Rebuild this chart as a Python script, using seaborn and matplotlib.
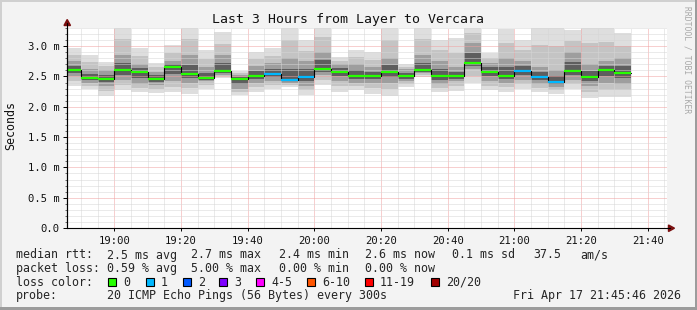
import numpy as np
import pandas as pd
import matplotlib
matplotlib.use("Agg")
import matplotlib.pyplot as plt
import seaborn as sns
from matplotlib.lines import Line2D
from matplotlib.patches import Rectangle, Polygon
from matplotlib.ticker import MultipleLocator, FuncFormatter

# ---------------- data ----------------
bar_end = pd.date_range("2026-04-17 18:50", "2026-04-17 21:35", freq="5min")
rtt_median = [2.60, 2.47, 2.46, 2.61, 2.58, 2.46, 2.65, 2.54, 2.48, 2.59, 2.46, 2.51,
              2.54, 2.44, 2.49, 2.63, 2.58, 2.51, 2.51, 2.58, 2.51, 2.61, 2.51, 2.51,
              2.73, 2.58, 2.51, 2.59, 2.49, 2.41, 2.59, 2.49, 2.61, 2.56]
rtt_min = [2.35, 2.30, 2.18, 2.27, 2.24, 2.23, 2.24, 2.21, 2.29, 2.48, 2.19, 2.25,
           2.30, 2.32, 2.19, 2.36, 2.25, 2.27, 2.21, 2.18, 2.32, 2.49, 2.25, 2.26,
           2.40, 2.27, 2.25, 2.30, 2.25, 2.21, 2.30, 2.15, 2.16, 2.16]
rtt_q1 = [2.50, 2.40, 2.35, 2.45, 2.38, 2.36, 2.42, 2.40, 2.42, 2.52, 2.30, 2.40,
          2.43, 2.40, 2.35, 2.52, 2.42, 2.40, 2.40, 2.40, 2.42, 2.55, 2.38, 2.42,
          2.62, 2.42, 2.40, 2.45, 2.38, 2.33, 2.45, 2.35, 2.40, 2.38]
rtt_q3 = [2.75, 2.62, 2.60, 2.85, 2.70, 2.58, 2.75, 2.85, 2.65, 2.85, 2.52, 2.68,
          2.72, 2.80, 2.75, 2.90, 2.70, 2.70, 2.65, 2.80, 2.62, 2.85, 2.75, 2.65,
          3.05, 2.72, 2.80, 2.75, 2.65, 2.60, 2.90, 2.70, 2.75, 2.80]
rtt_max = [2.97, 2.85, 2.74, 3.40, 2.97, 2.72, 3.02, 3.40, 2.93, 3.23, 2.59, 2.91,
           2.97, 3.40, 3.10, 3.40, 2.82, 2.94, 2.91, 3.40, 2.70, 3.40, 3.11, 3.14,
           3.40, 2.88, 3.29, 3.11, 3.40, 3.40, 3.26, 3.40, 3.40, 3.22]
loss = [0, 0, 0, 0, 0, 0, 0, 0, 0, 0, 0, 0, 1, 1, 1, 0, 0, 0, 0, 0, 0, 0, 0, 0,
        0, 0, 0, 1, 1, 1, 0, 0, 0, 0]
loss_labels = ["0", "1", "2", "3", "4-5", "6-10", "11-19", "20/20"]
loss_colors = ["#26ff00", "#00b8ff", "#0059ff", "#7e00ff", "#ff00ff", "#ff5500", "#ff0000", "#a10000"]
stats_rtt = ["2.5 ms avg", "2.7 ms max", "2.4 ms min", "2.6 ms now", "0.1 ms sd", "37.5", "am/s"]
stats_loss = ["0.59 % avg", "5.00 % max", "0.00 % min", "0.00 % now"]
title = "Last 3 Hours from Layer to Vercara"
probe_text = "20 ICMP Echo Pings (56 Bytes) every 300s"
stamp = "Fri Apr 17 21:45:46 2026"

base = pd.Timestamp("2026-04-17 18:00")
view_start = pd.Timestamp("2026-04-17 18:45:46")
view_end = view_start + pd.Timedelta(hours=3)

def mins(ts):
    return (ts - base).total_seconds() / 60.0

t_end = np.array([mins(t) for t in bar_end])
step = 5.0
med = np.array(rtt_median)
lo0, hi0 = np.array(rtt_min), np.array(rtt_max)
q1, q3 = np.array(rtt_q1), np.array(rtt_q3)

# ---------------- figure ----------------
W, H = 697, 310
sns.set_theme(style="white")
plt.rcParams["font.family"] = ["DejaVu Sans Mono", "DejaVu Sans"]

fig = plt.figure(figsize=(W / 100, H / 100), dpi=100, facecolor="#f3f3f3")

def fx(x):
    return x / W

def fy(y):
    return 1 - y / H

ax = fig.add_axes([fx(67), fy(228), 600 / W, 200 / H])
ax.set_facecolor("white")

# smoke layers
layers = [
    (lo0, hi0, "#dedede"),
    ((lo0 + q1) / 2, (q3 + hi0) / 2, "#c4c4c4"),
    (q1, q3, "#9e9e9e"),
    ((q1 + med) / 2, (med + q3) / 2, "#5e5e5e"),
]
for lo, hi, col in layers:
    ax.bar(t_end - step, hi - lo, width=step, bottom=lo, align="edge",
           color=col, linewidth=0, zorder=1)

# median step line
df_step = pd.DataFrame({"t": np.concatenate([[t_end[0] - step], t_end]),
                        "med": np.concatenate([[med[0]], med])})
sns.lineplot(data=df_step, x="t", y="med", drawstyle="steps-pre", color="black",
             lw=0.8, ax=ax, zorder=3, estimator=None, sort=True)

# loss-coloured median segments
seg_colors = [loss_colors[l] for l in loss]
ax.hlines(med, t_end - step, t_end, colors=seg_colors, lw=1.6, zorder=4)

ax.set_xlim(mins(view_start), mins(view_end))
ax.set_ylim(0, 3.3)
ax.set_xlabel("")
ax.set_ylabel("")

ax.xaxis.set_major_locator(MultipleLocator(20))
ax.xaxis.set_minor_locator(MultipleLocator(5))
ax.yaxis.set_major_locator(MultipleLocator(0.5))
ax.yaxis.set_minor_locator(MultipleLocator(0.1))
ax.xaxis.set_major_formatter(FuncFormatter(lambda v, p: f"{int(v // 60) + 18:02d}:{int(round(v % 60)):02d}"))
ax.yaxis.set_major_formatter(FuncFormatter(lambda v, p: "0.0" if abs(v) < 1e-9 else f"{v:.1f} m"))

ax.set_axisbelow(False)
ax.grid(which="minor", color="#d6d6d6", linestyle=(0, (1, 1)), lw=0.72, zorder=2.5)
ax.grid(which="major", color="#f0a0a0", linestyle=(0, (1, 1)), lw=0.72, zorder=2.6)

for s in ["top", "right"]:
    ax.spines[s].set_visible(False)
for s in ["left", "bottom"]:
    ax.spines[s].set_color("black")
    ax.spines[s].set_linewidth(0.8)
    ax.spines[s].set_zorder(5)

ax.tick_params(axis="y", which="major", length=3, width=0.7, color="black",
               pad=2.2, labelsize=7.6, labelcolor="#111111", direction="out", left=True)
ax.tick_params(axis="y", which="minor", length=1.5, width=0.6, color="#555555", left=True)
ax.tick_params(axis="x", which="major", length=2, width=0.7, color="black",
               pad=3.5, labelsize=7.6, labelcolor="#111111", bottom=True)
ax.tick_params(axis="x", which="minor", length=0)

# axis extensions and arrows
fig.add_artist(Line2D([fx(67), fx(67)], [fy(228), fy(23)], color="black", lw=0.8))
fig.add_artist(Line2D([fx(667), fx(670)], [fy(228), fy(228)], color="black", lw=0.8))
fig.add_artist(Polygon([(fx(64), fy(25.5)), (fx(70.5), fy(25.5)), (fx(67.2), fy(19.5))],
                       closed=True, color="#7a0f0f", transform=fig.transFigure))
fig.add_artist(Polygon([(fx(668.5), fy(225)), (fx(668.5), fy(231.5)), (fx(674.5), fy(228.2))],
                       closed=True, color="#7a0f0f", transform=fig.transFigure))

# titles
fig.text(fx(348), fy(19), title, ha="center", va="center", fontsize=9.5, color="#111111")
fig.text(fx(11), fy(126), "Seconds", rotation=90, ha="center", va="center",
         fontsize=8.4, color="#111111")
fig.text(fx(687), fy(60), "RRDTOOL / TOBI OETIKER", rotation=270, ha="center",
         va="center", fontsize=5.8, color="#a8a8a8")

# legend / statistics block
fs = 8.4
rows_y = [255, 268.5, 282, 295.5]
fig.text(fx(16), fy(rows_y[0]), "median rtt:", ha="left", va="center", fontsize=fs)
for txt, x in zip(stats_rtt, [107, 191, 279, 365, 452, 533, 580]):
    fig.text(fx(x), fy(rows_y[0]), txt, ha="left", va="center", fontsize=fs)
fig.text(fx(16), fy(rows_y[1]), "packet loss:", ha="left", va="center", fontsize=fs)
for txt, x in zip(stats_loss, [107, 191, 279, 365]):
    fig.text(fx(x), fy(rows_y[1]), txt, ha="left", va="center", fontsize=fs)
fig.text(fx(16), fy(rows_y[2]), "loss color:", ha="left", va="center", fontsize=fs)
sq_x = [108, 146, 183, 219, 256, 307, 365, 431]
for lab, col, x in zip(loss_labels, loss_colors, sq_x):
    fig.add_artist(Rectangle((fx(x), fy(286)), 8 / W, 8 / H, facecolor=col,
                             edgecolor="black", lw=0.8, transform=fig.transFigure))
    fig.text(fx(x + 15), fy(rows_y[2]), lab, ha="left", va="center", fontsize=fs)
fig.text(fx(16), fy(rows_y[3]), "probe:", ha="left", va="center", fontsize=fs)
fig.text(fx(107), fy(rows_y[3]), probe_text, ha="left", va="center", fontsize=fs)
fig.text(fx(513), fy(rows_y[3]), stamp, ha="left", va="center", fontsize=fs)

# 3D-ish frame
fig.add_artist(Rectangle((0, fy(2)), 1, 2 / H, facecolor="#d0d0d0", lw=0, transform=fig.transFigure))
fig.add_artist(Rectangle((0, 0), 2 / W, 1, facecolor="#d0d0d0", lw=0, transform=fig.transFigure))
fig.add_artist(Rectangle((fx(695), 0), 2 / W, 1, facecolor="#9c9c9c", lw=0, transform=fig.transFigure))
fig.add_artist(Rectangle((0, 0), 1, 3 / H, facecolor="#9c9c9c", lw=0, transform=fig.transFigure))

fig.savefig("out.png", dpi=100, facecolor=fig.get_facecolor())
